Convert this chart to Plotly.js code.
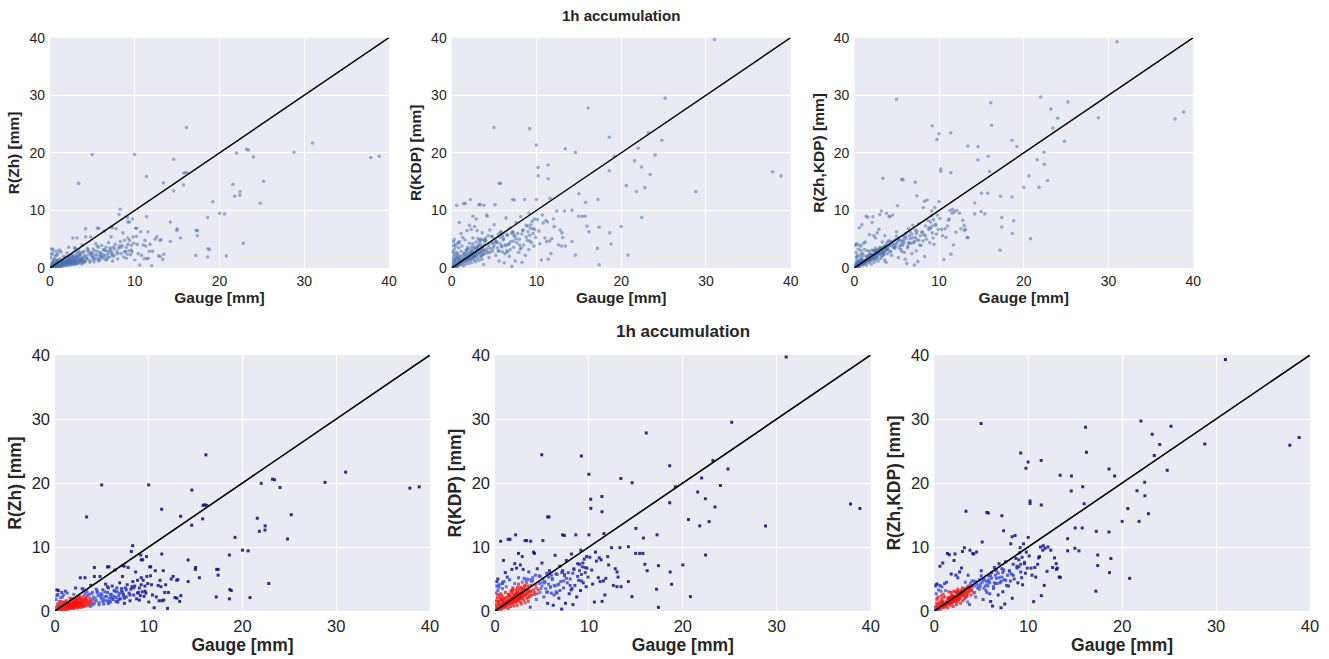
<!DOCTYPE html>
<html><head><meta charset="utf-8">
<script src="https://cdn.plot.ly/plotly-3.0.1.min.js"></script>
<style>html,body{margin:0;padding:0;background:#fff}</style>
</head><body>
<div id="chart" style="width:1329px;height:659px"></div>
<script>
// ---------- data (mm) ----------
// isolated points (gauge, R(Zh), R(KDP), R(Zh,KDP))
const gOut   = [31.0,38.85,37.85,28.8,25.2,24.8,24.0,23.2,23.42,22.0,22.4,22.42,22.8,21.58,21.8,20.6,20.0,20.8,19.2,18.6,18.6,18.65,18.8,17.2,17.25,17.4,17.4,16.1,16.2,15.8,15.96,15.75,15.4,15.0,14.97,14.6,14.58,14.2,14.2,13.4,13.42,11.38,11.39,11.4,9.99,9.76,10.19,10.2,9.2,4.98,3.37,5.6,5.75,10.58,7.2,7.38];
const zhOut  = [21.7,19.4,19.2,20.1,15.05,11.25,19.3,20.6,20.5,19.95,12.65,13.3,4.3,14.5,12.45,9.4,9.5,2.1,11.5,8.75,1.9,3.35,3.2,2.2,6.5,6.5,5.6,24.4,16.5,16.5,16.6,14.4,5.2,6.8,6.5,18.9,13.4,7.97,4.6,14.8,2.4,15.9,8.9,1.6,19.7,8.5,5.5,6.9,8.0,19.7,14.7,6.9,6.9,0.5,7.1,7.0];
const kdpOut = [39.7,16.0,16.7,13.3,29.5,22.2,19.6,23.5,16.25,20.8,17.55,8.75,13.96,18.6,13.3,14.3,7.2,2.24,19.4,22.7,16.9,6.1,4.17,3.4,11.9,7.08,0.57,27.8,6.3,11.4,7.3,9.0,9.0,12.9,9.0,20.05,2.24,10.05,4.6,20.7,3.8,17.9,15.5,1.5,21.35,8.5,17.45,16.04,24.2,24.4,11.0,14.7,14.7,1.4,11.9,11.8];
const zkOut  = [39.3,27.1,25.9,26.1,28.85,22.0,26.0,27.6,24.3,29.7,20.1,18.0,15.2,18.8,14.0,16.0,14.0,5.1,21.1,22.2,12.34,6.0,8.2,3.1,12.45,8.75,7.1,28.7,24.8,19.4,16.77,12.97,9.4,12.97,9.8,21.1,18.75,11.3,9.4,21.2,5.26,23.5,16.56,2.4,23.3,22.3,17.2,16.8,24.7,29.3,15.6,15.4,15.3,1.46,14.9,12.55];

// mid-range points
const gMid   = [3.1,3.3,3.5,3.6,3.8,4.0,4.1,4.2,4.3,4.4,4.5,4.6,4.7,4.8,4.9,5.0,5.1,5.2,5.3,5.4,5.5,5.6,5.7,5.8,5.9,6.0,6.1,6.2,6.3,6.4,6.5,6.6,6.8,6.9,7.0,7.1,7.2,7.3,7.4,7.5,7.6,7.7,7.8,7.9,8.0,8.1,8.14,8.28,8.3,8.4,8.5,8.6,8.7,8.8,8.9,9.0,9.1,9.14,9.2,9.3,9.35,9.4,9.5,9.6,9.7,9.8,9.9,10.0,10.1,10.3,10.4,10.7,10.8,11.0,11.1,11.2,11.3,11.55,11.6,11.7,11.8,12.0,12.1,12.4,12.6,12.8,12.98,13.0,13.1,13.3];
const zhMid  = [1.8,2.2,1.2,2.6,1.5,2.9,1.1,6.8,2.0,1.6,3.1,2.4,1.3,5.4,2.7,1.9,3.3,1.1,2.2,4.2,1.6,2.9,3.6,2.0,1.4,2.6,3.9,1.8,2.3,6.4,1.5,3.0,2.4,4.4,1.9,3.2,5.4,2.6,1.2,3.6,2.2,4.1,6.8,2.8,1.6,3.4,9.3,10.2,4.6,2.5,3.9,6.1,1.9,4.8,2.9,3.6,2.4,8.75,5.2,3.0,8.0,4.8,2.3,3.9,2.8,5.4,4.3,1.4,6.9,4.1,2.5,6.3,2.2,4.0,1.6,4.8,3.8,6.3,1.7,2.9,4.1,0.4,2.9,5.0,5.4,2.1,4.8,2.0,4.9,1.5];
const kdpMid = [3.5,4.8,2.1,6.1,3.0,5.2,9.2,2.6,4.1,1.8,6.6,3.3,5.5,2.9,4.4,7.5,11.0,2.2,4.6,3.5,5.9,1.2,4.2,6.2,3.7,2.8,5.1,0.9,4.0,8.7,3.0,5.7,2.0,7.0,4.6,0.3,6.3,3.6,5.5,1.2,7.9,4.4,6.0,2.7,5.0,3.3,8.9,5.9,1.0,6.6,4.0,11.9,2.2,7.4,4.8,6.3,3.2,9.5,5.7,6.9,7.5,4.4,8.1,6.0,3.8,6.7,5.3,11.9,8.4,6.4,4.2,9.2,7.8,5.2,8.3,4.6,8.0,4.7,12.1,2.5,5.1,8.5,7.2,9.9,4.0,6.6,3.8,6.1,5.3,9.9];
const zkMid  = [3.2,4.5,2.4,5.6,3.3,4.7,9.0,2.8,3.9,2.2,9.2,3.6,4.0,4.9,4.2,6.3,10.8,1.8,5.0,3.9,3.2,2.9,4.6,5.5,2.7,1.5,6.0,0.8,3.5,6.8,4.3,5.1,2.5,7.4,4.4,0.5,6.6,3.0,4.9,1.1,7.7,4.0,5.6,3.9,6.3,4.7,10.5,11.6,2.0,7.3,5.0,11.8,8.2,6.7,4.4,6.9,9.1,9.9,7.3,5.2,8.4,4.1,10.5,7.6,5.9,9.2,6.7,11.5,8.6,6.7,5.6,6.8,5.3,7.3,8.3,8.5,10.0,9.5,10.2,4.0,9.8,6.2,10.0,9.5,6.8,8.3,7.4,6.5,6.7,5.3];

// second mid-range band (denser part of the cloud)
const gMid2   = [1.5,1.7,1.9,2.1,2.3,2.5,2.7,2.9,3.1,3.3,3.5,3.7,3.9,4.1,4.3,4.5,4.7,4.9,5.1,5.3,5.5,5.7,5.9,6.1,6.3,6.5,6.7,6.9,7.1,7.3,2.0,2.4,2.8,3.2,3.6,4.0,4.4,4.8,5.2,5.6,6.0,6.4,6.8,7.2,7.6,8.0,8.4,8.8,9.2,9.6,1.8,2.6,3.4,4.2,5.0,5.8,6.6,7.4,8.2,9.0];
const zhMid2  = [1.2,0.6,1.4,0.9,1.7,1.1,2.0,1.3,0.8,1.9,2.4,1.4,0.9,2.2,1.6,2.9,1.0,2.1,1.5,3.0,2.3,1.2,2.6,1.9,3.2,2.1,1.4,2.8,3.5,2.4,2.6,0.9,1.8,2.7,1.3,1.8,3.4,2.5,1.7,3.8,2.2,3.1,1.8,2.9,3.3,2.5,3.6,2.8,4.1,3.1,0.9,2.3,3.0,1.2,2.5,1.5,3.6,2.0,3.8,1.7];
const kdpMid2 = [2.5,1.3,3.3,2.0,2.8,4.2,1.9,3.4,5.1,2.6,3.9,2.4,4.6,3.3,5.6,2.7,4.3,3.5,5.0,4.4,2.9,5.3,3.8,4.9,2.5,5.8,4.1,3.2,6.0,4.7,1.6,3.7,2.2,4.0,3.1,4.8,3.6,5.4,4.5,3.0,5.6,3.9,4.2,6.2,5.1,4.0,6.5,5.4,4.7,6.8,3.2,2.0,5.0,2.9,3.9,6.3,2.8,5.7,3.5,7.3];
const zkMid2  = [1.9,1.5,2.4,2.2,2.0,3.1,2.6,2.8,3.4,3.0,2.7,3.5,3.3,3.9,2.9,4.2,3.6,3.8,4.5,3.5,4.7,3.9,4.4,5.1,3.8,5.6,4.3,5.2,4.6,6.0,1.4,2.9,3.1,2.5,3.7,3.2,4.6,3.4,4.9,4.1,5.5,4.4,5.9,5.3,4.8,6.2,5.6,7.0,6.1,7.4,2.3,2.6,2.2,4.7,5.5,4.9,6.3,6.4,5.8,8.0];

// small gauge, high radar estimate
const gUp    = [0.6,0.9,1.4,1.6,2.2,2.1,3.2,3.8,2.9,1.8,1.1,2.5,0.3,0.2,0.8,1.3,2.7,4.2,3.0,2.3];
const zhUp   = [1.5,2.5,1.1,2.0,3.6,1.8,5.2,4.0,3.5,0.8,3.1,2.2,2.6,3.3,2.2,2.8,5.2,5.4,3.4,2.0];
const kdpUp  = [10.9,7.9,11.2,11.2,11.9,7.4,11.0,10.9,8.5,6.5,6.0,9.0,5.0,4.6,4.4,5.3,7.2,9.0,6.5,6.7];
const zkUp   = [7.0,7.5,9.0,8.8,8.9,7.9,9.9,9.5,6.7,5.8,4.3,5.2,4.2,4.1,3.8,4.5,6.1,8.9,9.3,5.6];

// dense core near the origin
const gCore  = [0.1,0.15,0.2,0.25,0.3,0.3,0.35,0.4,0.4,0.45,0.5,0.5,0.55,0.6,0.6,0.65,0.7,0.7,0.75,0.8,0.8,0.85,0.9,0.9,0.95,1.0,1.0,1.05,1.1,1.1,1.15,1.2,1.2,1.25,1.3,1.3,1.35,1.4,1.4,1.45,1.5,1.5,1.55,1.6,1.6,1.65,1.7,1.7,1.75,1.8,1.8,1.85,1.9,1.9,1.95,2.0,2.0,2.05,2.1,2.1,2.15,2.2,2.2,2.25,2.3,2.3,2.35,2.4,2.4,2.45,2.5,2.5,2.55,2.6,2.6,2.65,2.7,2.7,2.75,2.8,2.8,2.85,2.9,2.9,2.95,3.0,3.0,3.05,3.1,3.15,3.2,3.25,3.3,3.35,3.4,3.45,3.5,3.55,3.6,3.65,3.7,3.75,3.8,3.85,3.9,3.95,0.05,0.12,0.18,0.22,0.28,0.33,0.38,0.42,0.48,0.52,0.58,0.62,0.68,0.72,0.78,0.82,0.88,0.92,0.98,0.1,0.2,0.35];
const zhCore = [0.1,0.3,0.05,0.4,0.2,0.9,0.1,0.6,0.2,1.5,0.3,0.1,0.7,0.4,2.1,0.2,0.5,0.9,0.3,0.6,0.2,1.1,0.4,0.7,0.3,0.5,1.3,0.2,0.6,0.9,0.4,0.7,1.6,0.3,0.8,0.5,1.0,0.6,0.3,1.2,0.7,0.9,0.5,0.8,1.4,0.4,0.9,0.6,1.1,0.7,1.9,0.5,1.0,0.8,1.3,0.9,0.4,1.5,0.7,1.1,0.6,1.2,0.9,1.6,0.8,1.3,0.5,1.0,1.8,0.7,1.2,0.9,1.4,0.6,1.1,1.7,0.8,1.3,1.0,1.5,0.6,1.2,1.9,0.9,1.4,1.1,2.3,0.7,1.3,1.6,1.0,2.0,0.8,1.4,1.7,1.1,2.4,0.9,1.5,1.2,2.0,0.7,1.6,2.7,1.3,1.0,0.0,0.2,0.6,0.1,1.1,0.3,0.5,0.1,0.8,0.4,1.2,0.3,0.6,2.9,0.4,0.9,0.5,1.4,0.2,1.8,2.4,3.2];
const kdpCore= [0.2,1.0,0.1,2.1,0.5,3.2,0.0,1.4,0.3,4.1,0.8,0.2,1.9,0.6,2.7,0.4,1.2,0.7,2.4,0.9,3.5,1.6,0.5,1.1,4.6,1.4,0.8,2.0,1.0,2.9,0.6,1.5,3.8,1.2,0.9,2.2,1.7,1.3,0.4,2.6,1.6,1.1,4.9,1.8,2.3,0.7,1.4,3.1,2.0,1.2,2.8,1.9,1.6,3.6,2.2,1.8,0.8,2.5,1.3,4.3,2.1,1.7,2.7,3.3,1.5,2.4,0.9,2.0,3.0,1.6,2.6,5.2,1.9,2.2,3.4,2.0,2.8,1.4,3.7,2.5,1.1,3.0,2.7,4.5,2.1,2.9,3.5,1.7,2.4,3.9,1.3,3.1,2.6,4.4,2.0,3.3,2.8,1.5,3.6,4.9,2.3,0.6,3.1,4.0,2.5,4.8,0.3,1.6,0.8,0.4,2.6,1.3,0.2,3.7,1.0,2.3,0.5,1.7,0.3,1.8,4.3,0.6,2.0,1.3,0.9,2.8,3.9,1.5];
const zkCore = [0.1,0.5,0.1,1.2,0.3,2.0,0.1,0.9,0.3,3.3,0.6,0.2,1.1,0.5,4.0,0.3,0.8,0.9,1.5,0.7,1.9,1.3,0.6,0.9,2.6,1.0,1.2,0.8,0.9,2.2,0.7,1.1,3.2,0.9,1.0,1.4,1.4,1.2,0.5,2.0,1.3,1.2,3.0,1.5,2.1,0.9,1.4,1.9,1.7,1.3,2.9,1.2,1.6,2.4,2.0,1.7,0.7,2.3,1.5,3.1,1.8,1.9,2.2,3.0,1.6,2.3,1.0,2.0,2.9,1.5,2.4,3.4,2.2,1.7,2.8,2.5,2.1,1.9,2.6,2.7,1.2,2.5,3.2,3.0,2.4,2.6,3.6,1.6,2.8,3.3,1.9,3.4,2.2,3.5,2.9,2.7,3.7,1.4,3.1,3.9,3.0,1.0,3.3,4.3,2.5,3.7,0.1,0.7,0.5,0.2,1.8,0.6,0.4,2.2,0.7,1.3,0.8,0.9,0.6,3.1,2.4,0.9,1.3,1.5,0.5,3.9,2.7,1.0];

const oneToOne = [0, 40];
const axisTicks = [0, 10, 20, 30, 40];
const yTitles = ['R(Zh) [mm]', 'R(KDP) [mm]', 'R(Zh,KDP) [mm]'];
const xTitle = 'Gauge [mm]';
const figTitle = '1h accumulation';

// ---------- assemble ----------
const gauge = [].concat(gOut, gMid, gMid2, gUp, gCore);
const estimates = [
  [].concat(zhOut, zhMid, zhMid2, zhUp, zhCore),
  [].concat(kdpOut, kdpMid, kdpMid2, kdpUp, kdpCore),
  [].concat(zkOut, zkMid, zkMid2, zkUp, zkCore)
];

const FONT = 'Liberation Sans, Arial, sans-serif';
const TXT = '#262626';

// local point density (gaussian kernel), used only for the colour of the lower row
function densityOrder(xs, ys) {
  const n = xs.length, h = 0.03, d = new Array(n).fill(0);
  for (let i = 0; i < n; i++) {
    for (let j = 0; j < n; j++) {
      const dx = (xs[i] - xs[j]) / 40, dy = (ys[i] - ys[j]) / 40;
      d[i] += Math.exp(-(dx * dx + dy * dy) / (2 * h * h));
    }
  }
  const idx = d.map((v, i) => i).sort((a, b) => d[a] - d[b]);
  const rank = new Array(n);
  idx.forEach((k, r) => rank[k] = r / (n - 1));
  return {idx, rank};
}

const traces = [];
const layout = {
  width: 1329, height: 659,
  margin: {l: 0, r: 0, t: 0, b: 0},
  paper_bgcolor: '#ffffff',
  plot_bgcolor: '#EAEAF2',
  showlegend: false,
  font: {family: FONT, color: TXT},
  annotations: []
};

const W = 1329, H = 659;
const panels = [
  {x0: 50, x1: 389, y0: 37.7, y1: 268, fs: 14, ts: 15.5, row: 0},
  {x0: 451.7, x1: 790.7, y0: 37.7, y1: 268, fs: 14, ts: 15.5, row: 0},
  {x0: 854.3, x1: 1193.3, y0: 37.7, y1: 268, fs: 14, ts: 15.5, row: 0},
  {x0: 55, x1: 430, y0: 355, y1: 611, fs: 16.5, ts: 17.5, row: 1},
  {x0: 495, x1: 870.7, y0: 355, y1: 611, fs: 16.5, ts: 17.5, row: 1},
  {x0: 934.3, x1: 1310, y0: 355, y1: 611, fs: 16.5, ts: 17.5, row: 1}
];

panels.forEach((p, k) => {
  const s = k === 0 ? '' : String(k + 1);
  const xa = 'x' + s, ya = 'y' + s;
  const est = estimates[k % 3];
  const common = {
    range: [0, 40], tickvals: axisTicks, showgrid: true, gridcolor: '#ffffff', gridwidth: 1,
    zeroline: false, showline: false, ticks: '', automargin: false, fixedrange: true,
    tickfont: {family: FONT, size: p.fs, color: TXT}
  };
  layout['xaxis' + s] = Object.assign({}, common, {
    domain: [p.x0 / W, p.x1 / W], anchor: ya, ticklabelstandoff: 3,
    title: {text: '<b>' + xTitle + '</b>', font: {family: FONT, size: p.ts, color: TXT}, standoff: 2}
  });
  layout['yaxis' + s] = Object.assign({}, common, {
    domain: [1 - p.y1 / H, 1 - p.y0 / H], anchor: xa, ticklabelstandoff: 4,
    title: {text: '<b>' + yTitles[k % 3] + '</b>', font: {family: FONT, size: p.ts, color: TXT}, standoff: 5}
  });

  if (p.row === 0) {
    traces.push({
      type: 'scatter', mode: 'markers', x: gauge, y: est, xaxis: xa, yaxis: ya,
      marker: {color: '#4C72B0', size: 3.6, opacity: 0.55, line: {width: 0}},
      hoverinfo: 'skip'
    });
  } else {
    const {idx, rank} = densityOrder(gauge, est);
    traces.push({
      type: 'scatter', mode: 'markers',
      x: idx.map(i => gauge[i]), y: idx.map(i => est[i]), xaxis: xa, yaxis: ya,
      marker: {
        symbol: 'square', size: 3, line: {width: 0}, opacity: 0.85,
        color: idx.map(i => rank[i]), cmin: 0, cmax: 1,
        colorscale: [[0, '#0a0a70'], [0.3, '#12129a'], [0.42, '#2b40d6'], [0.6, '#5468ee'],
                     [0.64, '#e33a3a'], [1, '#ff0a0a']],
        showscale: false
      },
      hoverinfo: 'skip'
    });
  }
  traces.push({
    type: 'scatter', mode: 'lines', x: oneToOne, y: oneToOne, xaxis: xa, yaxis: ya,
    line: {color: '#000000', width: p.row === 0 ? 1.4 : 1.6}, hoverinfo: 'skip'
  });
});

layout.annotations.push(
  {text: '<b>' + figTitle + '</b>', xref: 'paper', yref: 'paper', x: 621 / W, y: 1 - 16 / H,
   xanchor: 'center', yanchor: 'middle', showarrow: false, font: {family: FONT, size: 15, color: TXT}},
  {text: '<b>' + figTitle + '</b>', xref: 'paper', yref: 'paper', x: 683 / W, y: 1 - 331 / H,
   xanchor: 'center', yanchor: 'middle', showarrow: false, font: {family: FONT, size: 17, color: TXT}}
);

Plotly.newPlot('chart', traces, layout, {displayModeBar: false, staticPlot: true});
</script>
</body></html>
